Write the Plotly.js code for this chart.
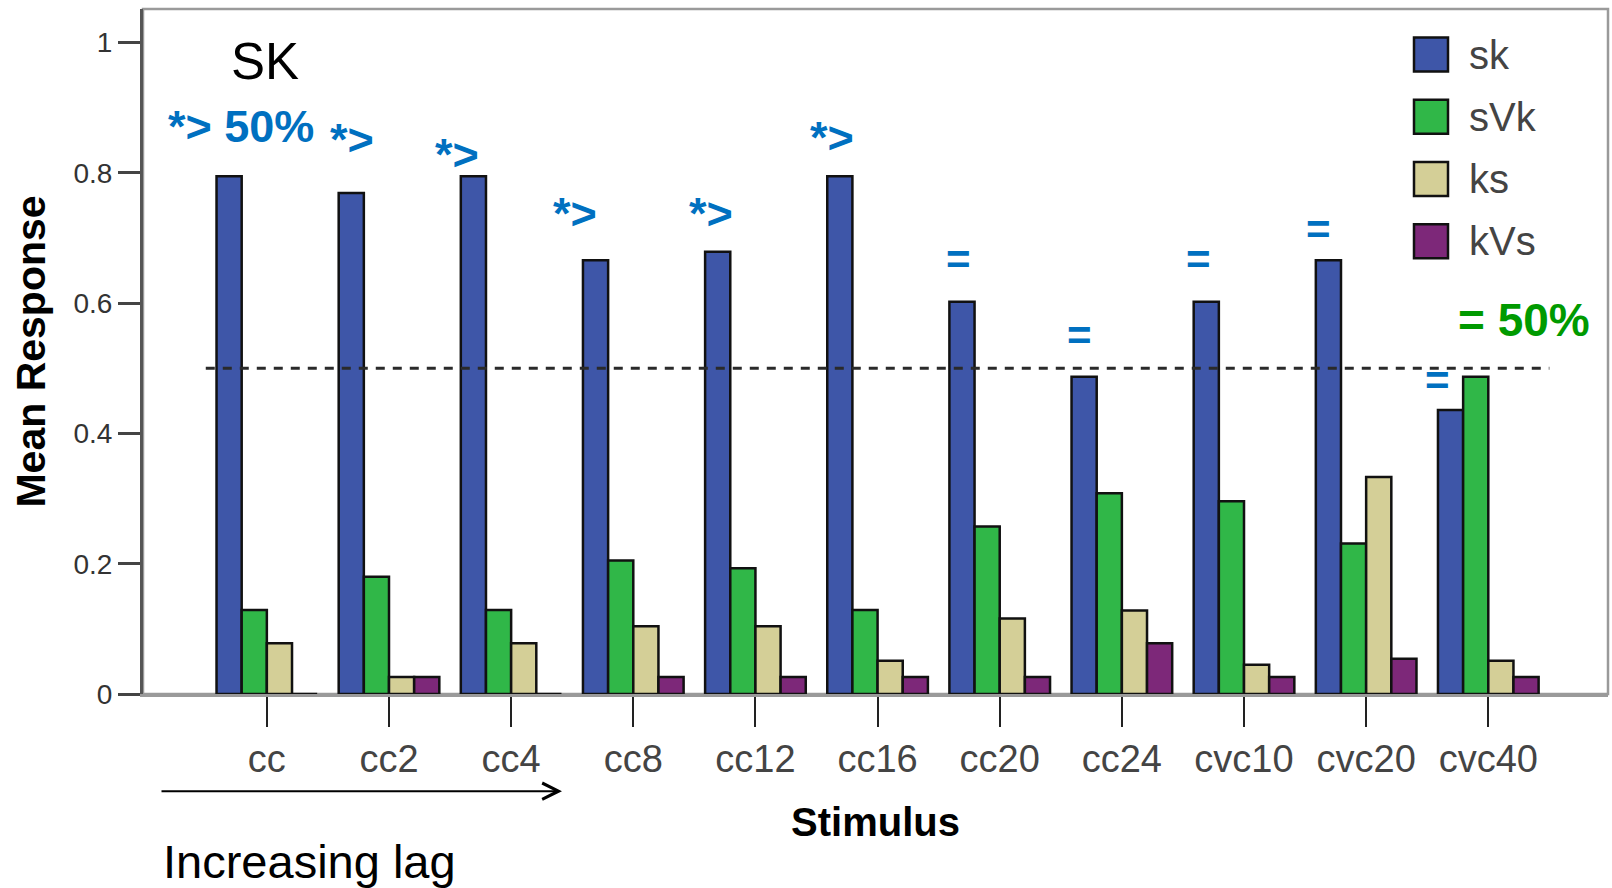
<!DOCTYPE html>
<html>
<head>
<meta charset="utf-8">
<script src="https://cdn.plot.ly/plotly-3.0.1.min.js"></script>
<style>html,body{margin:0;padding:0;background:#fff;}#chart{width:1612px;height:888px;}</style>
</head>
<body>
<div id="chart"></div>
<script>
// ---- data ----
const categories = ["cc","cc2","cc4","cc8","cc12","cc16","cc20","cc24","cvc10","cvc20","cvc40"];
const seriesNames = ["sk","sVk","ks","kVs"];
const sk  = [0.795,0.769,0.795,0.666,0.679,0.795,0.602,0.487,0.602,0.666,0.436];
const sVk = [0.129,0.180,0.129,0.205,0.193,0.129,0.257,0.308,0.296,0.231,0.487];
const ks  = [0.078,0.026,0.078,0.104,0.104,0.051,0.116,0.128,0.045,0.333,0.051];
const kVs = [0.000,0.026,0.000,0.026,0.026,0.026,0.026,0.078,0.026,0.054,0.026];
const yTickVals = [0,0.2,0.4,0.6,0.8,1];
const yTickText = ["0","0.2","0.4","0.6","0.8","1"];
const chanceLevel = 0.5;
// significance labels per stimulus (text only)
const sigText = ["*> 50%","*>","*>","*>","*>","*>","=","=","=","=","="];

// ---- styles / layout constants ----
const colors = ["#3e56a8","#30b748","#d4cf97","#7d2879"];
const FONT = "Liberation Sans, Arial, sans-serif";
const W = 1612, H = 888;
const L = 143, R = 1608, T = 9, B = 693.6;
const px = v => (v - L) / (R - L);
const py = v => (B - v) / (B - T);

// placement of significance labels (x offset from category index, y in data units)
const sigPlace = [[-0.21,0.872],[-0.30,0.852],[-0.44,0.829],[-0.48,0.738],[-0.36,0.738],[-0.37,0.855],
                  [-0.34,0.667],[-0.35,0.551],[-0.37,0.667],[-0.39,0.713],[-0.42,0.482]];

const values = [sk, sVk, ks, kVs];
const traces = values.map((v, i) => ({
  type: "bar",
  name: seriesNames[i],
  x: categories,
  y: v,
  marker: {color: colors[i], line: {color: "#111", width: 2.5}},
  showlegend: false,
  hoverinfo: "x+y+name"
}));

const annotations = [];
sigText.forEach((t, i) => {
  annotations.push({
    x: i + sigPlace[i][0], y: sigPlace[i][1], xref: "x", yref: "y",
    text: "<b>" + t + "</b>", showarrow: false, xanchor: "center", yanchor: "middle",
    font: {family: FONT, size: t === "=" ? 42 : 45, color: "#0070c0"}
  });
});
annotations.push({
  x: 10.29, y: 0.574, xref: "x", yref: "y", text: "<b>= 50%</b>", showarrow: false,
  xanchor: "center", yanchor: "middle", font: {family: FONT, size: 46, color: "#009a00"}
});
annotations.push({
  x: px(265), y: py(61), xref: "paper", yref: "paper", text: "SK", showarrow: false,
  xanchor: "center", yanchor: "middle", font: {family: FONT, size: 51, color: "#000"}
});
annotations.push({
  x: px(309), y: py(861), xref: "paper", yref: "paper", text: "Increasing lag", showarrow: false,
  xanchor: "center", yanchor: "middle", font: {family: FONT, size: 47, color: "#000"}
});
// arrow
annotations.push({
  x: px(562), y: py(790.7), xref: "paper", yref: "paper", text: "",
  showarrow: true, ax: -402, ay: 0, arrowhead: 5, arrowsize: 1.6, arrowwidth: 2, arrowcolor: "#000"
});

// legend (manual, large swatches)
const shapes = [];
seriesNames.forEach((n, i) => {
  const cy = 54.5 + i * 62.2;
  shapes.push({type: "rect", xref: "paper", yref: "paper",
    x0: px(1414), x1: px(1448), y0: py(cy - 17), y1: py(cy + 17),
    fillcolor: colors[i], line: {color: "#111", width: 2.5}});
  annotations.push({x: px(1467), y: py(cy), xref: "paper", yref: "paper", text: n,
    showarrow: false, xanchor: "left", yanchor: "middle",
    font: {family: FONT, size: 40, color: "#444"}});
});
// frame
shapes.push({type: "rect", xref: "paper", yref: "paper", x0: 0, x1: 1, y0: 0, y1: 1,
  line: {color: "#9a9a9a", width: 2.5}, layer: "below"});
// chance line
shapes.push({type: "line", xref: "x", yref: "y", x0: -0.5, x1: 10.5, y0: chanceLevel, y1: chanceLevel,
  line: {color: "#2a2a2a", width: 3, dash: "9px,8px"}});

const layout = {
  width: W, height: H,
  margin: {l: L, r: W - R, t: T, b: H - B, pad: 0},
  paper_bgcolor: "#fff", plot_bgcolor: "#fff",
  barmode: "group", bargap: 0.176, bargroupgap: 0,
  font: {family: FONT},
  xaxis: {
    type: "category", categoryorder: "array", categoryarray: categories,
    range: [-1.014, 10.98], showgrid: false, zeroline: false,
    showline: true, linecolor: "#9a9a9a", linewidth: 2.5,
    ticks: "outside", ticklen: 30, tickwidth: 2, tickcolor: "#222",
    tickfont: {family: FONT, size: 38, color: "#444"},
    title: {text: "<b>Stimulus</b>", font: {family: FONT, size: 40, color: "#000"}, standoff: 29}
  },
  yaxis: {
    range: [0, (B - T) / 651], showgrid: false, zeroline: false,
    tickmode: "array", tickvals: yTickVals, ticktext: yTickText,
    showline: true, linecolor: "#555", linewidth: 3,
    ticks: "outside", ticklen: 22, tickwidth: 3, tickcolor: "#444",
    tickfont: {family: FONT, size: 28, color: "#333"},
    title: {text: "<b>Mean Response</b>", font: {family: FONT, size: 41, color: "#000"}, standoff: 16}
  },
  annotations: annotations,
  shapes: shapes
};

Plotly.newPlot("chart", traces, layout, {displayModeBar: false, staticPlot: true});
</script>
</body>
</html>
